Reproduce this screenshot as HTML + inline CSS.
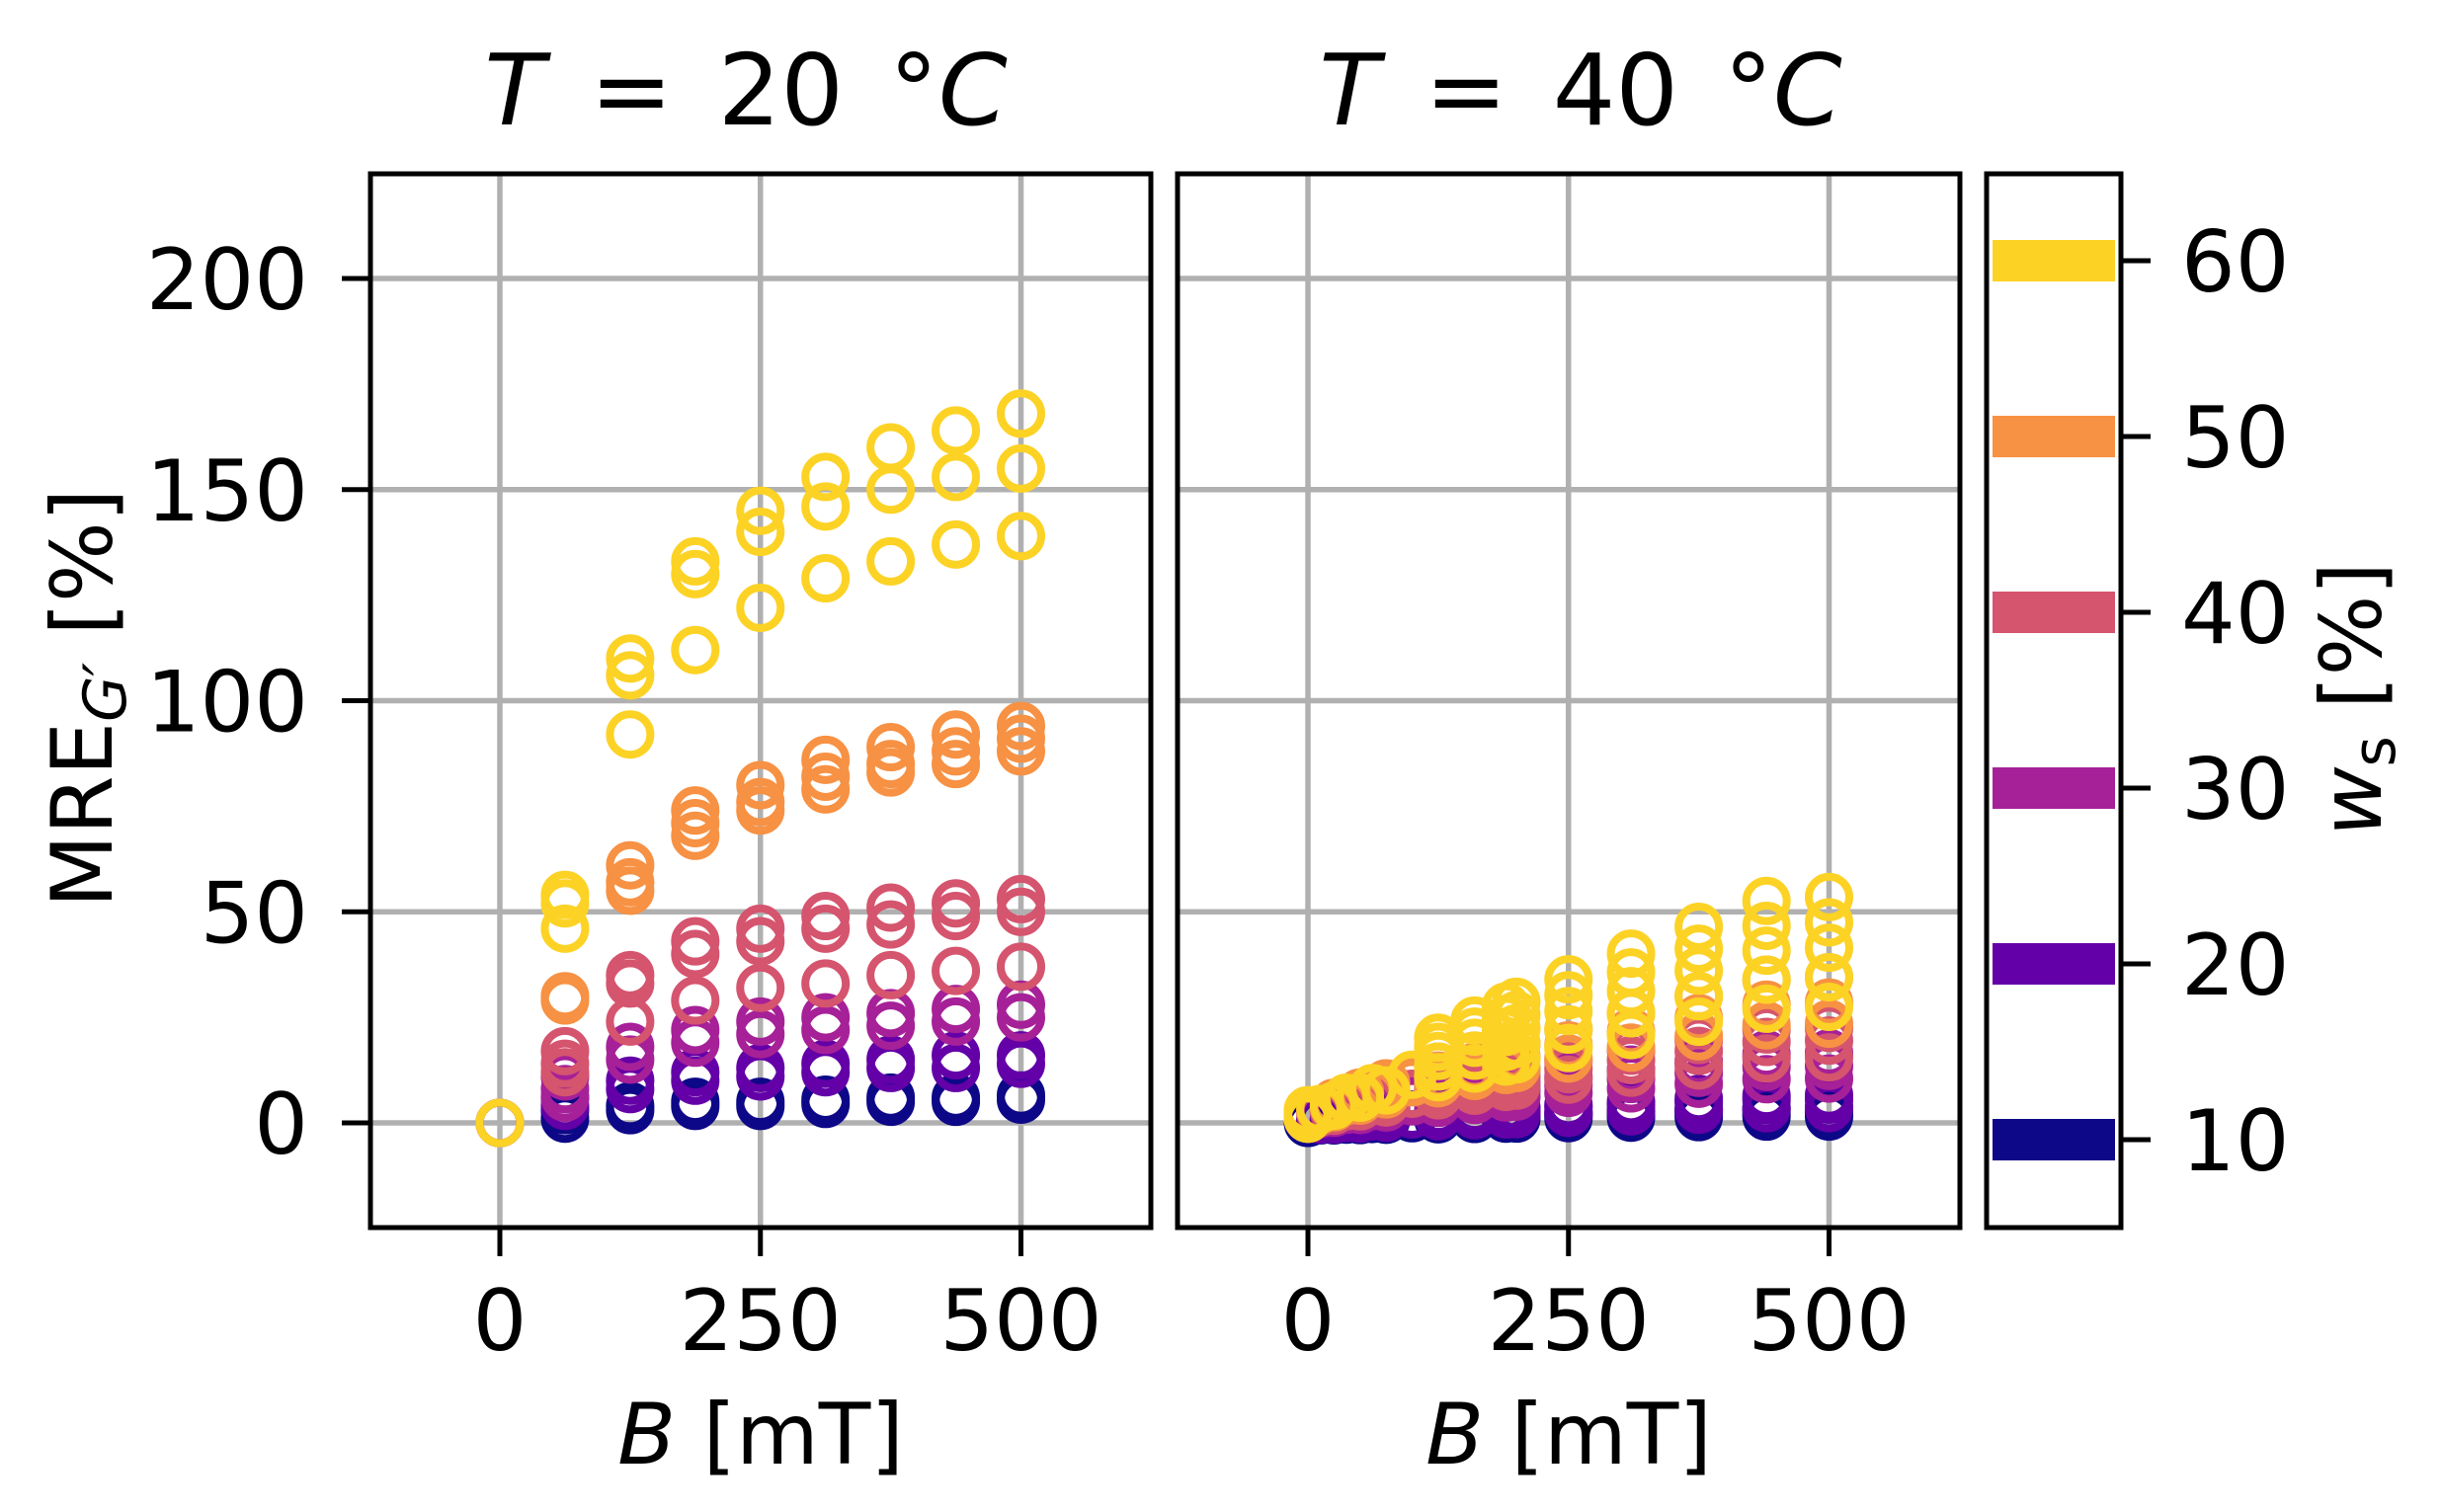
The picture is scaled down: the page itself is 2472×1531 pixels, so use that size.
<!DOCTYPE html>
<html><head><meta charset="utf-8">
<style>
html,body{margin:0;padding:0;background:#fff;}
svg{display:block;}
text{font-family:"DejaVu Sans","Liberation Sans",sans-serif;fill:#000;}
</style></head>
<body>
<svg id="s" xmlns="http://www.w3.org/2000/svg" width="2472" height="1531" viewBox="0 0 2472 1531">
<rect width="2472" height="1531" fill="#fff"/>
<g id="grid"></g>
<g id="data"></g>
<g id="axes"></g>
<g id="labels"></g>
</svg>
<script>
(function(){
const NS="http://www.w3.org/2000/svg";
function el(p,t,a,txt){const e=document.createElementNS(NS,t);for(const k in a)e.setAttribute(k,a[k]);if(txt!==undefined)e.textContent=txt;document.getElementById(p).appendChild(e);return e;}
function ts(parent,txt,a){const e=document.createElementNS(NS,"tspan");for(const k in (a||{}))e.setAttribute(k,a[k]);e.textContent=txt;parent.appendChild(e);return e;}
const Y0=1137, YU=4.275;
const yy=v=>Y0-v*YU;
const P=[{x0:375,x1:1165,z:506},{x0:1192,x1:1984,z:1324}];
const XU=1.055;
const TOPY=176,BOTY=1243;
const cols={10:"#0d0887",20:"#6300a7",30:"#a62098",40:"#d5546e",50:"#f79143",60:"#fcd225"};
P.forEach(p=>{
  [0,250,500].forEach(b=>{const x=p.z+b*XU;el("grid","line",{x1:x,x2:x,y1:TOPY,y2:BOTY,stroke:"#b0b0b0","stroke-width":5.5});});
  [0,50,100,150,200].forEach(v=>{el("grid","line",{x1:p.x0,x2:p.x1,y1:yy(v),y2:yy(v),stroke:"#b0b0b0","stroke-width":5.5});});
});
const L={
10:{62.5:[3,1],125:[4,3],187.5:[5,4],250:[5,4],312.5:[5.5,4.5],375:[6,5],437.5:[6,5],500:[6.5,5.5]},
20:{62.5:[6,4],125:[10,8],187.5:[12,10],250:[13,11],312.5:[14,12],375:[15,13],437.5:[16,13],500:[16,14]},
30:{62.5:[11,8,6],125:[18,15],187.5:[22,19],250:[24,21],312.5:[25,22],375:[26,23],437.5:[27,24],500:[28,25]},
40:{62.5:[17,14,12],125:[35,33,24],187.5:[43,40,29],250:[46,43,32],312.5:[49,46,33],375:[51,47,35],437.5:[52,49,36],500:[53,50,37]},
50:{62.5:[30,29],125:[61,57,55],187.5:[74,71,68],250:[80,76,74],312.5:[86,82,79],375:[89,85,83],437.5:[92,88,85],500:[94,91,88]},
60:{0:[0],62.5:[54,52,46],125:[110,106,92],187.5:[133,130,112],250:[145,140,122],312.5:[153,146,129],375:[160,150,133],437.5:[164,153,137],500:[168,155,139]}
};
function circ(x,v,c){el("data","circle",{cx:x,cy:yy(v),r:20.5,fill:"none",stroke:c,"stroke-width":8});}
[10,20,30,40,50].forEach(k=>circ(P[0].z,0,cols[k]));
[10,20,30,40,50,60].forEach(k=>{for(const b in L[k]){L[k][b].forEach(v=>circ(P[0].z+parseFloat(b)*XU,v,cols[k]));}});
const RB=[0,12,25,37,50,62,75,100,125,160,190,200,250,310,375,440,500];
const RM={10:[1,2,3],20:[3,5,6],30:[9,12,15],40:[14,18,21],50:[22,27,33],60:[26,33,40,46,52]};
[10,20,30,40,50,60].forEach(k=>{
  RM[k].forEach((m,i)=>{
    RB.forEach((b,j)=>{
      if(b>0 && b<125 && (j+i)%2) return;
      if(k==60 && b>0 && b<125 && i>1) return;
      const f=Math.pow(Math.min(1,b/450),0.8);
      let v=m*f+(k>=30?1.5:0.5);
      if(b==0) v=(k==10?0:1)+i*0.5;
      circ(P[1].z+b*XU,v,cols[k]);
    });
  });
});
P.forEach((p,i)=>{
  el("axes","rect",{x:p.x0,y:TOPY,width:p.x1-p.x0,height:BOTY-TOPY,fill:"none",stroke:"#000","stroke-width":5});
  [0,250,500].forEach(b=>{const x=p.z+b*XU;el("axes","line",{x1:x,x2:x,y1:BOTY,y2:BOTY+29,stroke:"#000","stroke-width":5});
    el("labels","text",{x:x,y:1367,"font-size":86,"text-anchor":"middle"},String(b));});
  if(i==0){[0,50,100,150,200].forEach(v=>{el("axes","line",{x1:p.x0-29,x2:p.x0,y1:yy(v),y2:yy(v),stroke:"#000","stroke-width":5});
    el("labels","text",{x:312,y:yy(v)+31,"font-size":86,"text-anchor":"end"},String(v));});}
  const cx=(p.x0+p.x1)/2;
  const t=el("labels","text",{x:cx,y:1482,"font-size":86,"text-anchor":"middle"});
  ts(t,"B",{"font-style":"italic"});ts(t," [mT]");
});
[[755,"20"],[1600,"40"]].forEach(a=>{
  const t=el("labels","text",{x:a[0],y:126,"font-size":100,"text-anchor":"middle","word-spacing":"14"});
  ts(t,"T",{"font-style":"italic"});ts(t," = "+a[1]+" °");ts(t,"C",{"font-style":"italic"});
});
const yl=el("labels","text",{x:0,y:0,"font-size":86,"text-anchor":"middle",transform:"translate(113,707) rotate(-90)"});
ts(yl,"MRE");ts(yl,"G′",{"font-size":60,"font-style":"italic",dy:14});ts(yl," [%]",{dy:-14});
el("axes","rect",{x:2011,y:TOPY,width:136,height:BOTY-TOPY,fill:"none",stroke:"#000","stroke-width":5});
[60,50,40,30,20,10].forEach(k=>{
  const ty=264+(60-k)*17.8;
  el("data","rect",{x:2017,y:ty-21,width:124,height:42,fill:cols[k]});
  el("axes","line",{x1:2147,x2:2177,y1:ty,y2:ty,stroke:"#000","stroke-width":5});
  el("labels","text",{x:2208,y:ty+31,"font-size":86},String(k));
});
const wl=el("labels","text",{x:0,y:0,"font-size":86,"text-anchor":"middle",transform:"translate(2410,708) rotate(-90)"});
ts(wl,"w",{"font-style":"italic"});ts(wl,"s",{"font-size":60,dy:14});ts(wl," [%]",{dy:-14});
})();
</script>
</body></html>
